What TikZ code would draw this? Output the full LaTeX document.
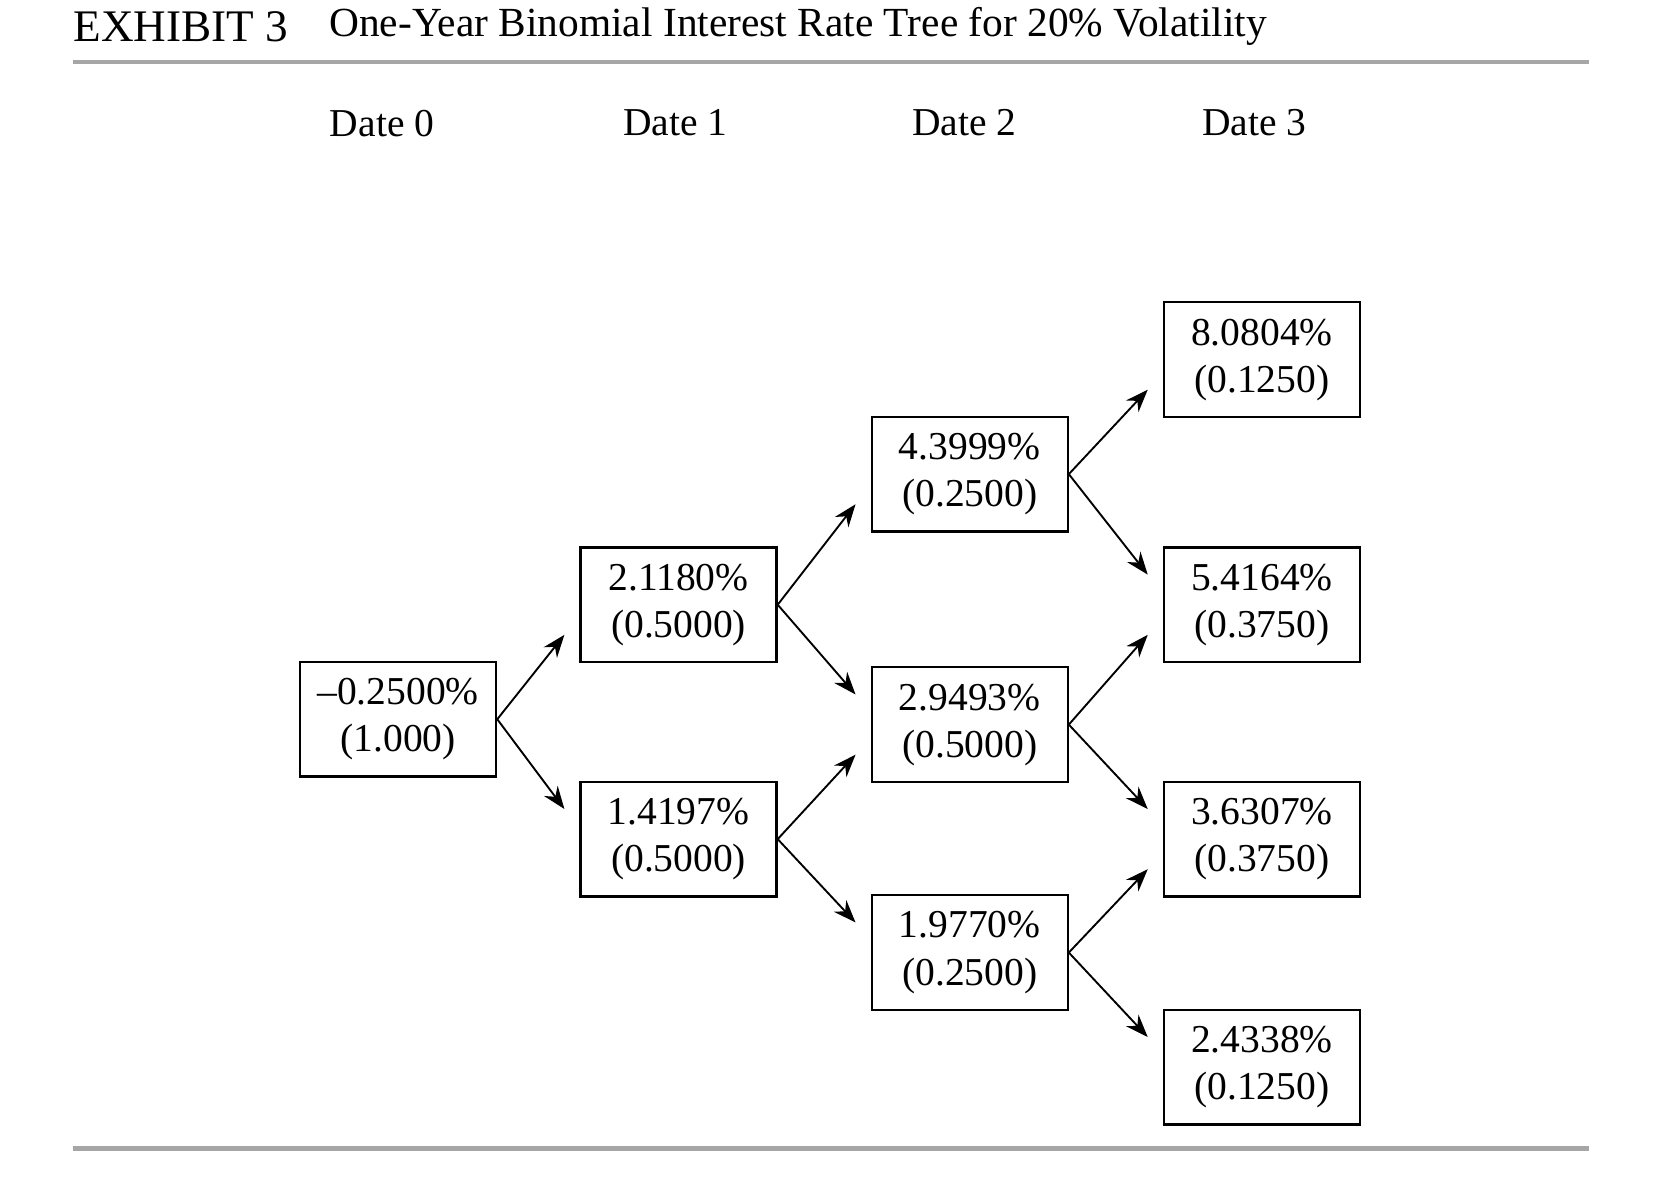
\documentclass[tikz,border=0pt]{standalone}
\usepackage{fontspec}
\setmainfont{Liberation Serif}
\usetikzlibrary{arrows.meta}
\tikzset{rate/.style = {draw=black,line width=0.6pt,minimum width=1.83cm,minimum height=1.07cm,align=center,font=\fontsize{10.5}{12.5}\selectfont,inner sep=0pt}}
\tikzset{arrow/.style = {-{Stealth[length=6pt,width=4.5pt]},line width=0.5pt}}
\tikzset{head/.style = {font=\fontsize{10.5}{13}\selectfont}}
\tikzset{rule/.style = {draw=black!35,line width=1.2pt}}

\begin{document}
\begin{tikzpicture}[x=0.01cm,y=-0.01cm]
		\useasboundingbox (0,0) rectangle (1550,1122);
		\node[anchor=west,font=\fontsize{12}{15}\selectfont,inner sep=0pt] (exh) at (68,25) {EXHIBIT 3};
		\node[anchor=west,font=\fontsize{11}{15}\selectfont,inner sep=0pt] (title) at (307,25) {One-Year Binomial Interest Rate Tree for 20\% Volatility};
		\coordinate (ruleTL) at (68,58);
		\coordinate (ruleTR) at (1485,58);
		\coordinate (ruleBL) at (68,1073);
		\coordinate (ruleBR) at (1485,1073);
		\draw[rule] (ruleTL) -- (ruleTR);
		\draw[rule] (ruleBL) -- (ruleBR);
		\node[head] (date0) at (357,115) {Date 0};
		\node[head] (date1) at (631,115) {Date 1};
		\node[head] (date2) at (901,115) {Date 2};
		\node[head] (date3) at (1172,115) {Date 3};
		\node[rate] (n0) at (372,672) {--0.2500\%\\(1.000)};
		\node[rate] (u1) at (634,565) {2.1180\%\\(0.5000)};
		\node[rate] (d1) at (634,784) {1.4197\%\\(0.5000)};
		\node[rate] (uu2) at (906,443) {4.3999\%\\(0.2500)};
		\node[rate] (ud2) at (906,677) {2.9493\%\\(0.5000)};
		\node[rate] (dd2) at (906,890) {1.9770\%\\(0.2500)};
		\node[rate] (uuu3) at (1179,336) {8.0804\%\\(0.1250)};
		\node[rate] (uud3) at (1179,565) {5.4164\%\\(0.3750)};
		\node[rate] (udd3) at (1179,784) {3.6307\%\\(0.3750)};
		\node[rate] (ddd3) at (1179,997) {2.4338\%\\(0.1250)};
		\draw[arrow] (n0.east) -- ([xshift=-4pt,yshift=-8pt]u1.west);
		\draw[arrow] (n0.east) -- ([xshift=-4pt,yshift=8pt]d1.west);
		\draw[arrow] (u1.east) -- ([xshift=-4pt,yshift=-8pt]uu2.west);
		\draw[arrow] (u1.east) -- ([xshift=-4pt,yshift=8pt]ud2.west);
		\draw[arrow] (d1.east) -- ([xshift=-4pt,yshift=-8pt]ud2.west);
		\draw[arrow] (d1.east) -- ([xshift=-4pt,yshift=8pt]dd2.west);
		\draw[arrow] (uu2.east) -- ([xshift=-4pt,yshift=-8pt]uuu3.west);
		\draw[arrow] (uu2.east) -- ([xshift=-4pt,yshift=8pt]uud3.west);
		\draw[arrow] (ud2.east) -- ([xshift=-4pt,yshift=-8pt]uud3.west);
		\draw[arrow] (ud2.east) -- ([xshift=-4pt,yshift=8pt]udd3.west);
		\draw[arrow] (dd2.east) -- ([xshift=-4pt,yshift=-8pt]udd3.west);
		\draw[arrow] (dd2.east) -- ([xshift=-4pt,yshift=8pt]ddd3.west);
	\end{tikzpicture}
\end{document}
